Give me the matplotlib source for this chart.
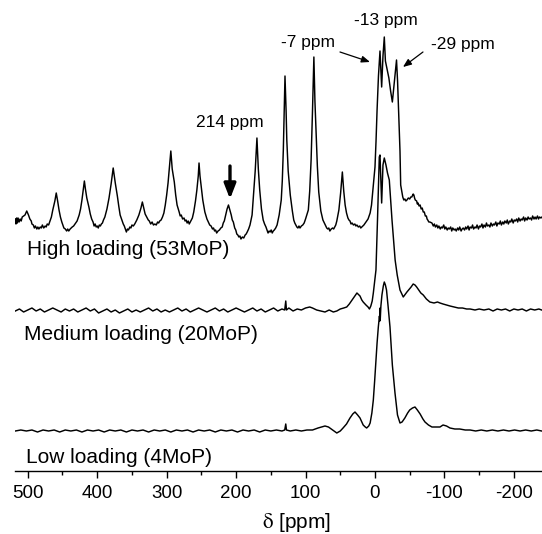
import matplotlib
matplotlib.use("Agg")
import matplotlib.pyplot as plt
import numpy as np

plt.rcParams['font.family'] = ['Liberation Sans', 'DejaVu Sans']
plt.rcParams['mathtext.fontset'] = 'stix'

# ---- data: (chemical shift in ppm, intensity above the trace's own baseline) ----
high_trace = [
    (518, 12), (517, 7), (516, 13), (515, 8), (514, 13), (512.5, 9), (511, 12), (509.5, 10), (508, 14),
    (506, 15), (504, 16), (501.5, 20), (499, 16), (497, 12),
    (495, 10), (494, 7), (492, 6), (490.5, 3), (489, 5), (487, 2), (485.5, 4), (484, 2), (482, 4),
    (480.5, 3), (479, 6), (477, 3), (475, 5), (473.5, 4), (472, 7), (470, 6), (468, 10),
    (466, 14), (464, 21), (461, 30), (459, 38), (457, 30), (455, 21), (453, 14), (451, 9), (449.5, 6),
    (448, 3), (446, 2), (444, 0), (442.5, 2), (441, 0), (439, 2), (437.5, 3), (436, 4), (434, 5), (432, 7),
    (429, 10), (426, 16), (424, 22),
    (422, 31), (418.5, 50), (417, 42), (415, 33), (412, 24), (410, 17), (408, 12), (406, 9), (404.5, 5),
    (403, 7), (401.5, 4), (400, 5), (398.5, 3), (397, 6), (395.5, 5), (394, 7), (392.5, 8), (391, 11),
    (389, 14), (386, 22), (383, 33), (380, 47), (377, 63), (374, 48),
    (371, 35), (369, 25), (367, 16), (364, 10), (362.5, 7), (361, 5), (359.5, 2), (358, -1), (356.5, 2),
    (355, 1), (353, 4), (351.5, 3), (350, 6), (348, 5), (346, 7), (344.5, 9), (343, 11), (340, 16),
    (337, 23), (335, 29), (333, 23), (331, 17), (328, 13), (326.5, 11), (325, 10), (323, 7), (321, 9),
    (319, 6), (317, 7), (315, 6), (313, 9), (311.5, 8), (310, 10), (308, 11), (306, 14), (304, 18),
    (302, 26), (300, 36), (298, 48), (296, 64),
    (294, 80), (292, 62), (289, 49), (287, 36), (285, 26), (282, 19), (280.5, 15), (279, 16), (277, 12),
    (275, 13), (273.5, 10), (272, 11), (270.5, 8), (269, 10), (267.5, 7), (266, 9), (264.5, 11),
    (263, 13), (261, 19), (258.5, 30), (256.5, 41), (254.5, 55), (253.4, 68),
    (252, 55), (250, 43), (248, 31), (245, 19), (242, 12), (240, 9), (238, 6), (236, 5), (234, 2),
    (232.5, 3), (231, 0), (229.5, 1), (228, -2), (226, 0), (224, 1), (222, 3), (220, 4), (218.5, 8),
    (217, 10), (215, 16), (213, 22), (211, 26), (209, 21), (207, 16), (205.5, 11), (204, 9),
    (202, 3), (200.5, 1), (199, -3), (197.5, -4), (196, -6), (194.5, -5), (193, -8), (191, -6),
    (189, -7), (187, -4), (185.5, -3), (184, -1), (182, 2), (180, 6), (177, 16),
    (175, 36), (172.5, 60), (170, 93), (168, 62), (166, 41), (163.5, 22), (161, 11), (159, 7),
    (157, 4), (155.5, 1), (154, -2), (152.5, 0), (151, -1), (149.5, 1), (148, -2), (146.5, 0),
    (145, 1), (143, 3), (141, 6), (138, 16), (135, 31), (133.5, 50), (132, 81),
    (129.6, 155), (128, 120), (127, 91), (125, 60), (122, 36), (119, 20), (117, 11), (115.5, 8),
    (114, 6), (112.5, 4), (111, 3), (109.5, 5), (108, 3), (106, 5), (104, 6), (102, 8),
    (100, 12), (96, 21), (94, 40), (92, 71), (90, 120), (88, 174),
    (86.5, 130), (85, 101), (83, 65), (81, 39), (78, 20), (75, 11), (73, 8), (71, 5), (69.5, 3),
    (68, 2), (66.5, 3), (65, 0), (63, 2), (61, 3), (59.5, 2), (58, 4), (56.5, 6),
    (55, 10), (52, 21), (49.5, 38), (47, 59), (45, 40), (43, 26), (41, 18),
    (39, 13), (37.5, 11), (36, 10), (34.5, 7), (33, 8), (31, 6), (29, 7), (27.5, 5), (26, 6),
    (24, 4), (22, 5), (20.5, 3), (19, 4), (17.5, 5), (16, 6), (13, 9), (10, 12),
    (7, 18), (5, 26), (3, 41), (1.5, 52), (0, 64), (-1.5, 90), (-3, 121), (-5, 155), (-7.2, 180),
    (-8.5, 160), (-9.6, 144), (-11.5, 175), (-13.4, 194), (-15, 170), (-16.8, 164), (-20, 153),
    (-22.5, 140), (-25, 129), (-28, 150), (-31, 171), (-32.5, 150), (-34, 121), (-36, 80), (-37, 46),
    (-40, 34), (-41.5, 31), (-43, 32), (-44.5, 30), (-46, 31), (-48, 33), (-50, 32), (-51.5, 34),
    (-53, 34), (-55, 37), (-56, 36), (-57, 33), (-58, 31),
    (-60, 30), (-61, 27), (-62, 28), (-63.5, 25), (-65, 26), (-66.5, 22), (-68, 23), (-69.5, 19),
    (-71, 19), (-72.5, 15), (-74, 15), (-75, 12), (-76, 11), (-77.5, 9), (-79, 9),
    (-82, 8), (-84, 5), (-85.5, 7), (-87, 4), (-89, 6), (-90.5, 3), (-92, 5), (-94, 2), (-95.5, 4),
    (-97, 3), (-99, 6), (-100.5, 2), (-102, 4), (-104, 1), (-105.5, 3), (-107, 2), (-109, 4),
    (-110.5, 0), (-112, 3), (-114, 1), (-115.5, 2), (-117, 0), (-119, 3), (-120.5, 1), (-122, 4),
    (-124, 0), (-125.5, 2), (-127, 3), (-129, 1), (-130.5, 4), (-132, 2), (-134, 5), (-135.5, 1),
    (-137, 4), (-139, 3), (-140.5, 6), (-142, 2), (-144, 4), (-145.5, 3), (-147, 6), (-149, 2),
    (-150.5, 5), (-152, 4), (-154, 7), (-155.5, 3), (-157, 6), (-159, 4), (-160.5, 8), (-162, 5),
    (-164, 6), (-165.5, 4), (-167, 8), (-169, 5), (-170.5, 7), (-172, 6), (-174, 9), (-175.5, 5),
    (-177, 8), (-179, 7), (-180.5, 10), (-182, 6), (-184, 9), (-185.5, 7), (-187, 10), (-189, 8),
    (-190.5, 11), (-192, 7), (-194, 10), (-195.5, 9), (-197, 12), (-199, 8), (-200.5, 11),
    (-202, 10), (-204, 12), (-205.5, 9), (-207, 13), (-209, 10), (-210.5, 12), (-212, 11),
    (-214, 14), (-215.5, 10), (-217, 13), (-219, 11), (-220.5, 14), (-222, 12), (-224, 13),
    (-225.5, 11), (-227, 15), (-229, 12), (-230.5, 14), (-232, 12), (-234, 15), (-235.5, 12),
    (-237, 14), (-239, 13), (-240.5, 14),
]

medium_trace = [
    (518, 0), (512, 2), (506, -1), (500, 1), (494, 3), (488, 0), (482, 2), (476, -1), (470, 1),
    (464, 3), (458, 1), (452, -1), (446, 2), (440, 0), (434, 2), (428, -1), (422, 1), (416, 3),
    (410, 0), (404, 2), (398, -2), (392, 0), (386, 2), (380, -1), (374, 1), (368, -2), (362, 0),
    (356, 2), (350, -1), (344, 1), (338, -1), (332, 1), (326, 3), (320, 0), (314, 2), (308, -1),
    (302, 1), (296, -1), (290, 1), (284, 3), (278, 0), (272, 2), (266, -1), (260, 1), (254, 3),
    (248, 1), (242, -1), (236, 1), (230, 3), (224, 0), (218, 2), (212, -1), (206, 1), (200, 3),
    (194, 1), (188, -1), (182, 1), (176, 3), (170, 0), (164, 2), (158, -1), (152, 1), (146, 3),
    (140, 0), (134, 2), (130, 1), (128.5, 10), (127.5, 1), (124, 3), (118, 0), (112, 2),
    (106, 1), (100, 3), (94, 4), (90, 3), (84, 1), (78, 0), (72, -1), (66, 1), (60, -1),
    (55, 0), (50, 2), (45, 3), (40.7, 4), (37, 7), (33, 11), (29, 15), (26, 18), (23, 16),
    (21.6, 15), (19, 11), (17, 9), (13, 6), (10, 4), (8, 2), (6, 5), (4, 10), (2.4, 18),
    (-1.4, 41), (-3.6, 91), (-6.2, 154), (-7.2, 156), (-8.5, 130), (-9.6, 108), (-11.5, 146),
    (-13.4, 153), (-15.8, 146), (-18, 138), (-20.6, 131), (-24.5, 91), (-29, 51), (-32, 36),
    (-36, 21), (-40.7, 14), (-46, 19), (-52, 24), (-55, 27), (-57.6, 26), (-60, 24), (-63, 21),
    (-66, 18), (-69.5, 16), (-74, 12), (-79, 9), (-85, 8), (-90, 9), (-93.6, 8), (-98, 7),
    (-103, 6), (-108, 5), (-114, 4), (-120, 3), (-126, 3), (-132, 2), (-137, 2), (-144, 1),
    (-150, 2), (-157, 1), (-164, 2), (-170, 0), (-176, 2), (-182, 1), (-188, 2), (-194, 0),
    (-200, 2), (-206, 1), (-212, 2), (-218, 0), (-224, 2), (-230, 1), (-236, 2), (-240, 1),
]

low_trace = [
    (518, 0), (510, 1), (502, 0), (494, 1), (486, -1), (478, 1), (470, 0), (462, 1), (454, -1),
    (446, 1), (438, 0), (430, 1), (422, -1), (414, 1), (406, 0), (398, 1), (390, -1), (382, 1),
    (374, 0), (366, 1), (358, -1), (350, 1), (342, 0), (334, 1), (326, -1), (318, 1), (310, 0),
    (302, 1), (294, -1), (286, 1), (278, 0), (270, 1), (262, -1), (254, 1), (246, 0), (238, 1),
    (230, -1), (222, 1), (214, 0), (206, 1), (198, -1), (190, 1), (182, 0), (174, 1), (166, -1),
    (158, 1), (150, 0), (142, 1), (134, 0), (130, 1), (128.5, 7), (127.5, 1), (122, 0),
    (114, 1), (106, 0), (98, 1), (90, 1), (86, 2), (82, 3), (77, 4), (72, 5), (67, 4),
    (63, 2), (59, 0), (55, -2), (50, 0), (46, 3), (41, 7), (36, 13), (32, 17), (28.8, 19),
    (25, 16), (21.6, 13), (19, 9), (17, 6), (14, 4), (12, 3), (9, 5), (7, 8), (4.5, 18),
    (2.4, 31), (0.5, 50), (-1.4, 71), (-3, 88), (-4.8, 104), (-6.4, 115), (-7.0, 110),
    (-7.3, 123), (-7.6, 112), (-8.5, 125), (-10, 136), (-12, 145), (-13.4, 149), (-15, 146),
    (-16.6, 141), (-18.7, 126), (-21.6, 104), (-25, 66), (-28.8, 38), (-32.4, 16), (-36, 8),
    (-39, 9), (-43, 13), (-47, 18), (-50, 21), (-54, 23), (-57.6, 24), (-61, 21), (-65, 17),
    (-69, 12), (-72, 9), (-77, 6), (-82, 4), (-88, 4), (-93.6, 4), (-98, 6), (-103, 5),
    (-108, 3), (-115, 2), (-122, 2), (-130, 1), (-137, 1), (-145, 0), (-153, 1), (-161, 0),
    (-169, 1), (-177, 0), (-185, 1), (-193, 0), (-201, 1), (-209, 0), (-217, 1), (-225, 0),
    (-233, 1), (-240, 0),
]

trace_offsets = [240, 160, 40]
trace_labels = ["High loading (53MoP)", "Medium loading (20MoP)", "Low loading (4MoP)"]
x_ticks = [500, 400, 300, 200, 100, 0, -100, -200]

# ---- figure ----
W, H = 542, 534
fig = plt.figure(figsize=(W / 100, H / 100), dpi=100)
ax_left, ax_right, ax_base = 15, 542, 471
ax = fig.add_axes([ax_left / W, (H - ax_base) / H, (ax_right - ax_left) / W, ax_base / H])
ax.set_xlim(518.4, -240.5)
ax.set_ylim(0, 471)

for trace, off in zip([high_trace, medium_trace, low_trace], trace_offsets):
    arr = np.array(trace, dtype=float)
    ax.plot(arr[:, 0], arr[:, 1] + off, color='black', lw=1.05, solid_joinstyle='round')

# trace labels
label_pos = [(501, 216), (505, 131), (502, 8)]
for (lx, ly), txt in zip(label_pos, trace_labels):
    ax.text(lx, ly, txt, fontsize=15, ha='left', va='baseline')

# peak annotations
ann_fs = 12.5
ax.text(208.8, 348, "214 ppm", fontsize=ann_fs, ha='center', va='center')
ax.annotate('', xy=(208.8, 272), xytext=(208.8, 305),
            arrowprops=dict(arrowstyle='-|>,head_length=0.9,head_width=0.35', lw=2.4,
                            color='black', shrinkA=0, shrinkB=0, mutation_scale=10))
ax.text(96.5, 428, "-7 ppm", fontsize=ann_fs, ha='center', va='center')
ax.annotate('', xy=(7.2, 409), xytext=(50.4, 419),
            arrowprops=dict(arrowstyle='-|>,head_length=0.5,head_width=0.2', lw=0.9,
                            color='black', shrinkA=0, shrinkB=0, mutation_scale=10))
ax.text(-15.8, 450, "-13 ppm", fontsize=ann_fs, ha='center', va='center')
ax.text(-126.7, 427, "-29 ppm", fontsize=ann_fs, ha='center', va='center')
ax.annotate('', xy=(-40.3, 404), xytext=(-69.1, 419),
            arrowprops=dict(arrowstyle='-|>,head_length=0.5,head_width=0.2', lw=0.9,
                            color='black', shrinkA=0, shrinkB=0, mutation_scale=10))

# axes styling
for s in ['left', 'right', 'top']:
    ax.spines[s].set_visible(False)
ax.spines['bottom'].set_linewidth(1.0)
ax.set_yticks([])
ax.set_xticks(x_ticks)
ax.set_xticks([450, 350, 250, 150, 50, -50, -150], minor=True)
ax.set_xticklabels([str(t) for t in x_ticks])
ax.tick_params(axis='x', which='major', direction='out', length=5, width=1.0,
               labelsize=13.5, pad=5)
ax.tick_params(axis='x', which='minor', direction='out', length=3, width=1.0)

fig.text(296 / W, 1 - 522 / H, r'$\mathrm{\delta}$ [ppm]', fontsize=15, ha='center', va='center')

fig.savefig('out.png', dpi=100)
